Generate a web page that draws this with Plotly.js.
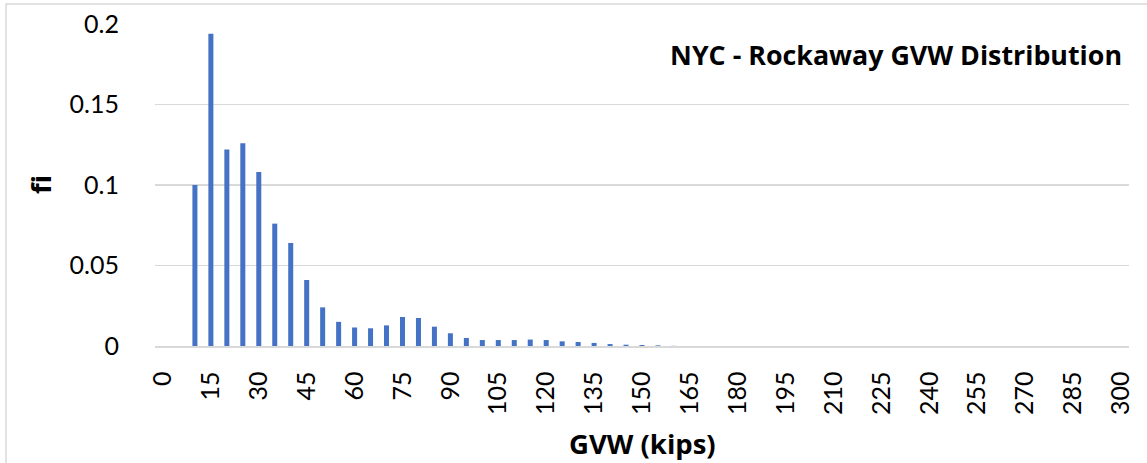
<!DOCTYPE html>
<html>
<head>
<meta charset="utf-8">
<script src="https://cdn.plot.ly/plotly-3.0.1.min.js"></script>
<style>html,body{margin:0;padding:0;background:#fff;}#chart{width:1147px;height:463px;}</style>
</head>
<body>
<div id="chart"></div>
<script>
// GVW bin (kips)
const gvwBins = [10, 15, 20, 25, 30, 35, 40, 45, 50, 55, 60, 65, 70, 75, 80, 85, 90, 95, 100,
  105, 110, 115, 120, 125, 130, 135, 140, 145, 150, 155, 160];
// relative frequency fi
const fiValues = [0.100, 0.194, 0.122, 0.126, 0.108, 0.076, 0.064, 0.041, 0.024, 0.015, 0.0115,
  0.011, 0.0128, 0.018, 0.0174, 0.012, 0.0079, 0.005, 0.0037, 0.0037, 0.0037, 0.004, 0.0037,
  0.0029, 0.0025, 0.0019, 0.0012, 0.0008, 0.0006, 0.0004, 0.0001];
const xTickVals = [0, 15, 30, 45, 60, 75, 90, 105, 120, 135, 150, 165, 180, 195, 210, 225, 240, 255, 270, 285, 300];
const yTickVals = [0, 0.05, 0.1, 0.15, 0.2];
const yTickText = ['0', '0.05', '0.1', '0.15', '0.2'];
const chartTitle = 'NYC - Rockaway GVW Distribution';
const xTitle = 'GVW (kips)';
const yTitle = 'fi';

const FONT = 'Lato, "Open Sans", sans-serif';
const BFONT = '"Open Sans", Lato, sans-serif';
const W = 1147, H = 463;
const L = 155, R = 18, T = 24, B = 117;
const pw = W - L - R, ph = H - T - B;

const trace = {
  type: 'bar',
  x: gvwBins,
  y: fiValues,
  width: 1.57,
  marker: {color: '#4472C4', line: {width: 0}},
  hoverinfo: 'x+y'
};

const layout = {
  width: W, height: H,
  margin: {l: L, r: R, t: T, b: B, pad: 0},
  paper_bgcolor: '#ffffff',
  plot_bgcolor: '#ffffff',
  showlegend: false,
  font: {family: FONT, color: '#000000', size: 25},
  title: {
    text: '<b>' + chartTitle + '</b>',
    font: {family: BFONT, size: 26.8, color: '#000000'},
    xref: 'container', yref: 'container',
    x: 1122 / W, xanchor: 'right',
    y: 1 - 56 / H, yanchor: 'middle'
  },
  xaxis: {
    type: 'linear',
    range: [-2.5, 302.5],
    tickmode: 'array',
    tickvals: xTickVals,
    ticktext: xTickVals.map(String),
    tickangle: -90,
    ticks: 'outside', ticklen: 14, tickcolor: 'rgba(0,0,0,0)',
    tickfont: {family: FONT, size: 25, color: '#000000'},
    showgrid: false, zeroline: false,
    showline: true, linecolor: '#d9d9d9', linewidth: 1.6,
    fixedrange: true
  },
  yaxis: {
    range: [0, 0.2],
    tickmode: 'array',
    tickvals: yTickVals,
    ticktext: yTickText,
    ticks: 'outside', ticklen: 30, tickcolor: 'rgba(0,0,0,0)',
    tickfont: {family: FONT, size: 25, color: '#000000'},
    showgrid: true, gridcolor: '#d9d9d9', gridwidth: 1.6,
    zeroline: false, showline: false,
    fixedrange: true
  },
  annotations: [
    {
      text: '<b>' + xTitle + '</b>',
      xref: 'paper', yref: 'paper',
      x: 0.5, y: -(443 - (T + ph)) / ph,
      xanchor: 'center', yanchor: 'middle',
      showarrow: false,
      font: {family: BFONT, size: 27.5, color: '#000000'}
    },
    {
      text: '<b>' + yTitle + '</b>',
      xref: 'paper', yref: 'paper',
      x: (40 - L) / pw, y: 0.5,
      xanchor: 'center', yanchor: 'middle',
      textangle: -90,
      showarrow: false,
      font: {family: BFONT, size: 27.5, color: '#000000'}
    }
  ],
  shapes: [
    {
      type: 'rect', xref: 'paper', yref: 'paper',
      x0: (6 - L) / pw, x1: (W + 10 - L) / pw,
      y0: -(H + 10 - T - ph) / ph, y1: (T + ph - 4) / ph,
      line: {color: '#d9d9d9', width: 1.5},
      fillcolor: 'rgba(0,0,0,0)',
      layer: 'below'
    }
  ]
};

Plotly.newPlot('chart', [trace], layout, {displayModeBar: false, staticPlot: true});
</script>
</body>
</html>
